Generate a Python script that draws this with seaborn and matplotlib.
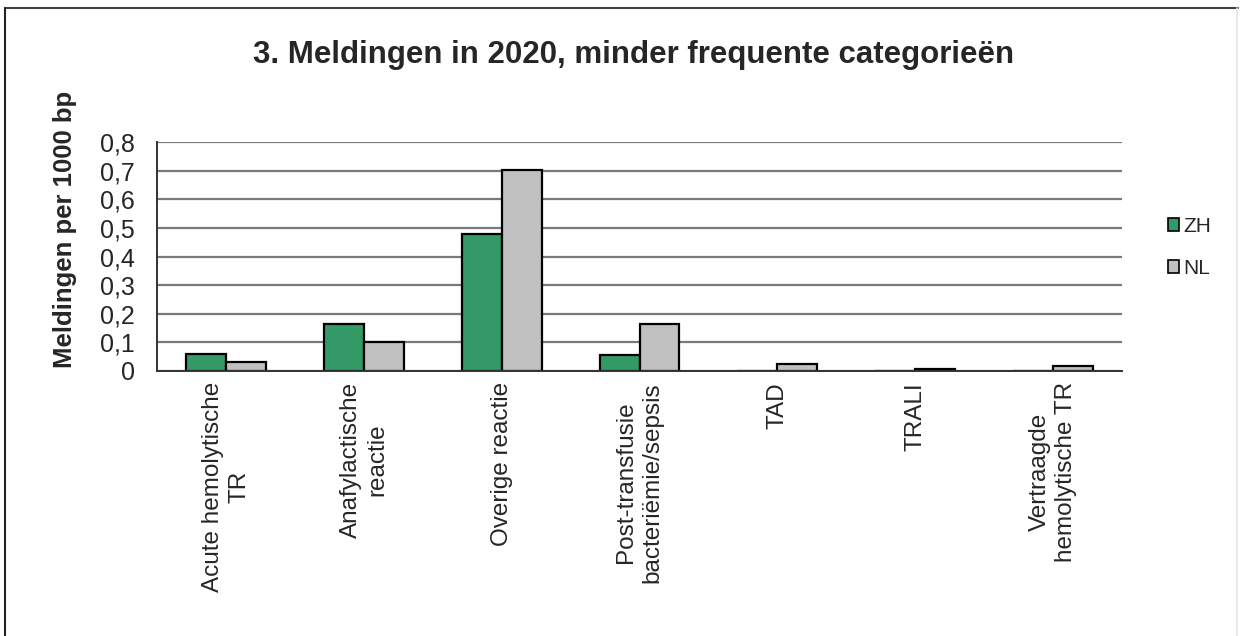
import numpy as np
import pandas as pd
import matplotlib
matplotlib.use("Agg")
import matplotlib.pyplot as plt
import seaborn as sns
from matplotlib.lines import Line2D
from matplotlib.ticker import FuncFormatter, FixedLocator

# ── Data ──────────────────────────────────────────────────────────────────────

CATEGORIES = [
    "Acute hemolytische\nTR",
    "Anafylactische\nreactie",
    "Overige reactie",
    "Post-transfusie\nbacteriëmie/sepsis",
    "TAD",
    "TRALI",
    "Vertraagde\nhemolytische TR",
]
ZH = [0.058, 0.165, 0.48, 0.056, 0.0, 0.0, 0.0]
NL = [0.030, 0.100, 0.703, 0.165, 0.024, 0.008, 0.017]
SERIES = ["ZH", "NL"]
COLORS = {"ZH": "#339966", "NL": "#C0C0C0"}

df = pd.DataFrame({
    "categorie": CATEGORIES * 2,
    "waarde": ZH + NL,
    "reeks": ["ZH"] * len(CATEGORIES) + ["NL"] * len(CATEGORIES),
})

# ── Plot ──────────────────────────────────────────────────────────────────────

sns.set_style("white")
plt.rcParams["font.family"] = ["Liberation Sans", "DejaVu Sans"]

W, H = 1242, 636
fig = plt.figure(figsize=(W / 100, H / 100), dpi=100)
ax = fig.add_axes([157 / W, 1 - 371 / H, (1122 - 157) / W, (371 - 142) / H])

sns.barplot(data=df, x="categorie", y="waarde", hue="reeks", hue_order=SERIES,
            palette=COLORS, width=0.58, edgecolor="black", linewidth=1.6,
            saturation=1, ax=ax)

ax.set_ylim(0, 0.8)
ax.set_xlim(-0.5, len(CATEGORIES) - 0.5)
ax.set_yticks(np.arange(0, 0.81, 0.1))
ax.yaxis.set_major_formatter(FuncFormatter(
    lambda v, _: "0" if abs(v) < 1e-9 else f"{v:.1f}".replace(".", ",")))
ax.grid(axis="y", color="#7a7a7a", linewidth=1.6)
ax.set_axisbelow(True)

for s in ["top", "right"]:
    ax.spines[s].set_visible(False)
for s in ["left", "bottom"]:
    ax.spines[s].set_color("#333333")
    ax.spines[s].set_linewidth(1.4)

ax.tick_params(axis="y", which="major", direction="out", length=7, width=1.2,
               labelsize=18, color="#333333", pad=9)
ax.tick_params(axis="x", which="major", length=0, labelsize=17.5, pad=8)
ax.xaxis.set_minor_locator(FixedLocator(np.arange(-0.5, len(CATEGORIES), 1.0)))
ax.tick_params(axis="x", which="minor", direction="out", length=7, width=1.2,
               color="#333333")
plt.setp(ax.get_xticklabels(), rotation=90, ha="center", va="top",
         multialignment="center", linespacing=1.25)

ax.set_xlabel("")
ax.set_ylabel("Meldingen per 1000 bp", fontsize=18.5, fontweight="bold")
ax.yaxis.set_label_coords(-0.083, 0.62)

leg = ax.legend(loc="center left", bbox_to_anchor=(1.028, 0.54), frameon=False,
                fontsize=15, handlelength=0.55, handleheight=0.55,
                handletextpad=0.2, labelspacing=1.1)
for h in leg.legend_handles:
    h.set_edgecolor("black")
    h.set_linewidth(1.2)

fig.text(0.51, 1 - 55 / H, "3. Meldingen in 2020, minder frequente categorieën",
         ha="center", va="center", fontsize=22.5, fontweight="bold")

# outer frame: dark top and left edge, faint right edge, no bottom
fig.add_artist(Line2D([5 / W, 1 - 4 / W], [1 - 8 / H, 1 - 8 / H],
                      transform=fig.transFigure, color="#444444", linewidth=1.5))
fig.add_artist(Line2D([5 / W, 5 / W], [0, 1 - 8 / H],
                      transform=fig.transFigure, color="#222222", linewidth=1.5))
fig.add_artist(Line2D([1 - 5 / W, 1 - 5 / W], [0, 1 - 8 / H],
                      transform=fig.transFigure, color="#e6e6e6", linewidth=1.2))

fig.savefig("out.png", dpi=100)
